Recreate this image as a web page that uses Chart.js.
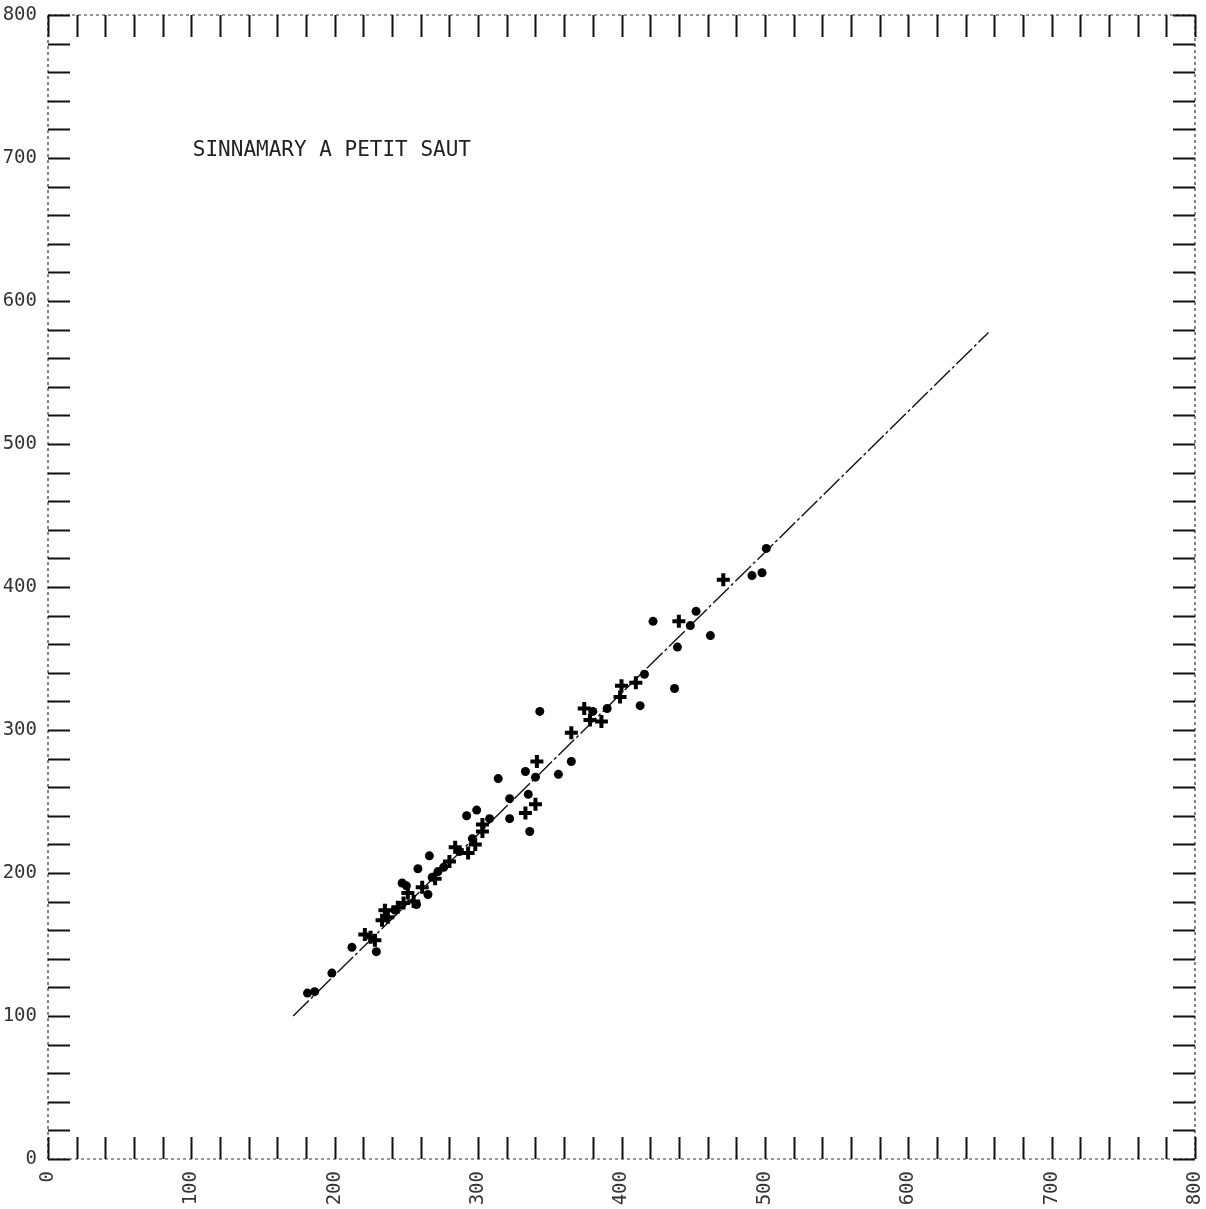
<!DOCTYPE html>
<html>
<head>
<meta charset="utf-8">
<script src="https://cdn.jsdelivr.net/npm/chart.js@4.4.1/dist/chart.umd.min.js"></script>
<style>
  html, body { margin: 0; padding: 0; background: #fff; }
  canvas { display: block; }
</style>
</head>
<body>
<canvas id="chart" width="1206" height="1209"></canvas>
<script>
const title = 'SINNAMARY A PETIT SAUT';
const axisMin = 0;
const axisMax = 800;
const tickStep = 20;
const labelledTicks = [0, 100, 200, 300, 400, 500, 600, 700, 800];

// filled dots
const dotX = [501, 491, 498, 452, 422, 448, 462, 439, 416, 437, 413, 380, 390, 343, 365, 333, 356, 340,
              314, 335, 322, 292, 299, 322, 308, 336, 296, 276, 266, 258, 268, 247, 265, 257, 242, 229,
              212, 198, 181, 186, 287, 272, 250];
const dotY = [427, 408, 410, 383, 376, 373, 366, 358, 339, 329, 317, 313, 315, 313, 278, 271, 269, 267,
              266, 255, 252, 240, 244, 238, 238, 229, 224, 204, 212, 203, 197, 193, 185, 178, 174, 145,
              148, 130, 116, 117, 215, 201, 191];

// plus markers
const crossX = [471, 440, 410, 400, 399, 374, 378, 386, 365, 341, 340, 333, 303, 303, 284, 298, 293, 280,
                261, 251, 255, 248, 235, 233, 237, 221, 228, 225, 270, 244];
const crossY = [405, 376, 333, 331, 323, 315, 307, 306, 298, 278, 248, 242, 234, 229, 218, 220, 214, 208,
                190, 186, 180, 179, 174, 167, 169, 157, 153, 155, 196, 176];

// fitted line end points
const fitX = [171, 656];
const fitY = [100, 578];

const toPoints = (xs, ys) => xs.map((x, i) => ({ x: x, y: ys[i] }));

const frameTicks = {
  id: 'frameTicks',
  afterDraw: function(chart) {
    const ctx = chart.ctx;
    const a = chart.chartArea;
    const xs = chart.scales.x;
    const ys = chart.scales.y;
    const len = 22;

    ctx.save();
    // frame, drawn broken like the old plotter
    ctx.strokeStyle = '#333';
    ctx.lineWidth = 1.2;
    ctx.setLineDash([3, 3]);
    ctx.strokeRect(a.left, a.top, a.right - a.left, a.bottom - a.top);
    ctx.setLineDash([]);

    // inward tick marks on the four sides
    ctx.strokeStyle = '#111';
    ctx.lineWidth = 2;
    ctx.beginPath();
    xs.ticks.forEach(t => {
      const px = Math.round(xs.getPixelForValue(t.value)) + 0.5;
      ctx.moveTo(px, a.bottom); ctx.lineTo(px, a.bottom - len);
      ctx.moveTo(px, a.top); ctx.lineTo(px, a.top + len);
    });
    ys.ticks.forEach(t => {
      const py = Math.round(ys.getPixelForValue(t.value)) + 0.5;
      ctx.moveTo(a.left, py); ctx.lineTo(a.left + len, py);
      ctx.moveTo(a.right, py); ctx.lineTo(a.right - len, py);
    });
    ctx.stroke();

    // plot title inside the frame
    ctx.fillStyle = '#222';
    ctx.font = '21px "DejaVu Sans Mono"';
    ctx.textBaseline = 'middle';
    ctx.textAlign = 'left';
    ctx.fillText(title, xs.getPixelForValue(101), ys.getPixelForValue(705));
    ctx.restore();
  }
};

const labelCallback = function(value) {
  return labelledTicks.includes(value) ? String(value) : '';
};

new Chart(document.getElementById('chart').getContext('2d'), {
  type: 'scatter',
  data: {
    datasets: [
      {
        label: 'fit',
        type: 'line',
        data: toPoints(fitX, fitY),
        borderColor: '#111',
        borderWidth: 1.4,
        borderDash: [22, 3, 3, 3],
        pointRadius: 0,
        fill: false,
        order: 2
      },
      {
        label: 'dots',
        data: toPoints(dotX, dotY),
        pointStyle: 'circle',
        pointRadius: 4.5,
        backgroundColor: '#000',
        borderColor: '#000',
        borderWidth: 0,
        order: 1
      },
      {
        label: 'plus',
        data: toPoints(crossX, crossY),
        pointStyle: 'cross',
        pointRadius: 6.5,
        borderColor: '#000',
        borderWidth: 4,
        order: 0
      }
    ]
  },
  options: {
    responsive: false,
    animation: false,
    layout: { padding: { left: 0, top: 15, right: 11, bottom: 0 } },
    plugins: {
      legend: { display: false },
      tooltip: { enabled: false }
    },
    scales: {
      x: {
        type: 'linear',
        min: axisMin,
        max: axisMax,
        grid: { display: false },
        border: { display: false },
        afterFit: function(scale) {
          scale.height = 50;
          scale.paddingLeft = 0;
          scale.paddingRight = 0;
        },
        ticks: {
          stepSize: tickStep,
          autoSkip: false,
          minRotation: 90,
          maxRotation: 90,
          padding: 4,
          color: '#333',
          font: { family: 'DejaVu Sans Mono', size: 19 },
          callback: labelCallback
        }
      },
      y: {
        type: 'linear',
        min: axisMin,
        max: axisMax,
        grid: { display: false },
        border: { display: false },
        afterFit: function(scale) {
          scale.width = 48;
          scale.paddingTop = 0;
          scale.paddingBottom = 0;
        },
        ticks: {
          stepSize: tickStep,
          autoSkip: false,
          padding: 3,
          color: '#333',
          font: { family: 'DejaVu Sans Mono', size: 19 },
          callback: labelCallback
        }
      }
    }
  },
  plugins: [frameTicks]
});
</script>
</body>
</html>
